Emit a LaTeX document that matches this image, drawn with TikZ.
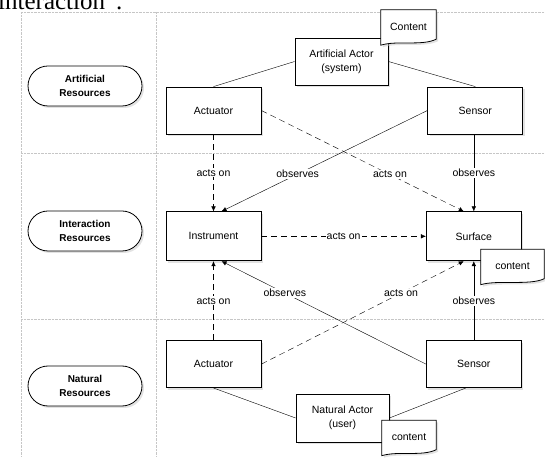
\documentclass[tikz,border=0pt]{standalone}
\usepackage{fontspec}
\setmainfont{Liberation Serif}
\setsansfont{Liberation Sans}
\usetikzlibrary{positioning, shadows, arrows.meta}

% note with a wavy lower edge, text put back on top of the fill
\newcommand{\drawnote}[4]{%
  \node[notetext, minimum width=#4] (#1) at (#2) {#3};
  \draw[notebox] (#1.north west) -- (#1.north east) -- ([yshift=4pt]#1.south east)
    .. controls +(-14pt,-7pt) and +(16pt,5pt) .. ([yshift=-2pt]#1.south west) -- cycle;
  \node[notetext] at (#1.center) {#3};}

\begin{document}
\begin{tikzpicture}[
    x=1pt, y=1pt,
    shade/.style={drop shadow={shadow xshift=2pt, shadow yshift=-2pt, fill=gray!45}},
    box/.style={draw, thick, fill=white, shade, minimum width=95pt, minimum height=47pt,
      align=center, font=\sffamily\fontsize{10.5}{14}\selectfont},
    lanebox/.style={draw, thick, fill=white, shade, rounded corners=20pt,
      minimum width=114pt, minimum height=40pt, align=center,
      font=\sffamily\bfseries\fontsize{10}{14}\selectfont},
    notebox/.style={draw, thick, fill=white, shade},
    notetext/.style={minimum height=33pt, inner sep=0pt,
      font=\sffamily\fontsize{10.5}{14}\selectfont},
    lane/.style={gray!45, densely dotted},
    tip/.style={-{Latex[length=5pt, width=4.5pt]}},
    acts/.style={tip, dash pattern=on 6pt off 4pt},
    obs/.style={tip},
    link/.style={},
    lbl/.style={fill=white, inner sep=1pt, font=\sffamily\fontsize{10.5}{14}\selectfont}
]
\useasboundingbox (0,0) rectangle (545,457);

% text cut from the page above
\node[anchor=base west, inner sep=0pt, font=\fontsize{25}{25}\selectfont] (caption) at (-2,447) {interaction”.};

% swimlanes
\draw[lane] (21,445) -- (545,445);
\draw[lane] (21,304) -- (545,304);
\draw[lane] (21,137.5) -- (545,137.5);
\draw[lane] (21,445) -- (21,0);
\draw[lane] (156,445) -- (156,0);

\node[lanebox] (artlane) at (85,371) {Artificial\\Resources};
\node[lanebox] (intlane) at (85,226) {Interaction\\Resources};
\node[lanebox] (natlane) at (85,71) {Natural\\Resources};

% resources
\node[box] (acttop) at (213.5,346.5) {Actuator};
\node[box, right=166pt of acttop] (sentop) {Sensor};
\node[box, below=77pt of acttop, minimum height=49pt] (instrument) {Instrument};
\node[box, below=77pt of sentop, minimum height=49pt, xshift=-1.5pt] (surface) {Surface};
\node[box, below=79pt of instrument] (actbot) {Actuator};
\node[box, below=79pt of surface] (senbot) {Sensor};

% actors
\node[box, minimum width=93pt] (sysactor) at (341.5,395.5) {Artificial Actor\\(system)};
\node[box, minimum width=93pt, minimum height=48pt] (useractor) at (342.5,39) {Natural Actor\\(user)};

\draw[link] (sysactor.west) -- (acttop.north);
\draw[link] (sysactor.east) -- (sentop.north);
\draw[link] (actbot.south) -- (useractor.west);
\draw[link] (useractor.east) -- ([xshift=-8pt]senbot.south);

% top lane onto interaction lane
\draw[acts] (acttop) -- node[lbl] {acts on} (instrument);
\draw[obs] (sentop.west) -- node[lbl, pos=0.63] {observes} ([xshift=8pt]instrument.north);
\draw[acts] (acttop.east) -- node[lbl, pos=0.635] {acts on} ([xshift=-10pt]surface.north);
\draw[obs] ([xshift=-1.5pt]sentop.south) -- node[lbl] {observes} (surface);

\draw[acts] (instrument) -- node[lbl] {acts on} (surface);

% bottom lane onto interaction lane
\draw[acts] (actbot) -- node[lbl] {acts on} (instrument);
\draw[obs] (senbot.west) -- node[lbl, pos=0.69] {observes} ([xshift=8pt]instrument.south);
\draw[acts] (actbot.east) -- node[lbl, pos=0.69] {acts on} ([xshift=-10pt]surface.south);
\draw[obs] (senbot) -- node[lbl] {observes} (surface);

% notes
\drawnote{sysnote}{408.5,430.5}{Content}{55pt}
\drawnote{surfnote}{512.5,191}{content}{63pt}
\drawnote{usernote}{409,20}{content}{54pt}
\end{tikzpicture}
\end{document}
